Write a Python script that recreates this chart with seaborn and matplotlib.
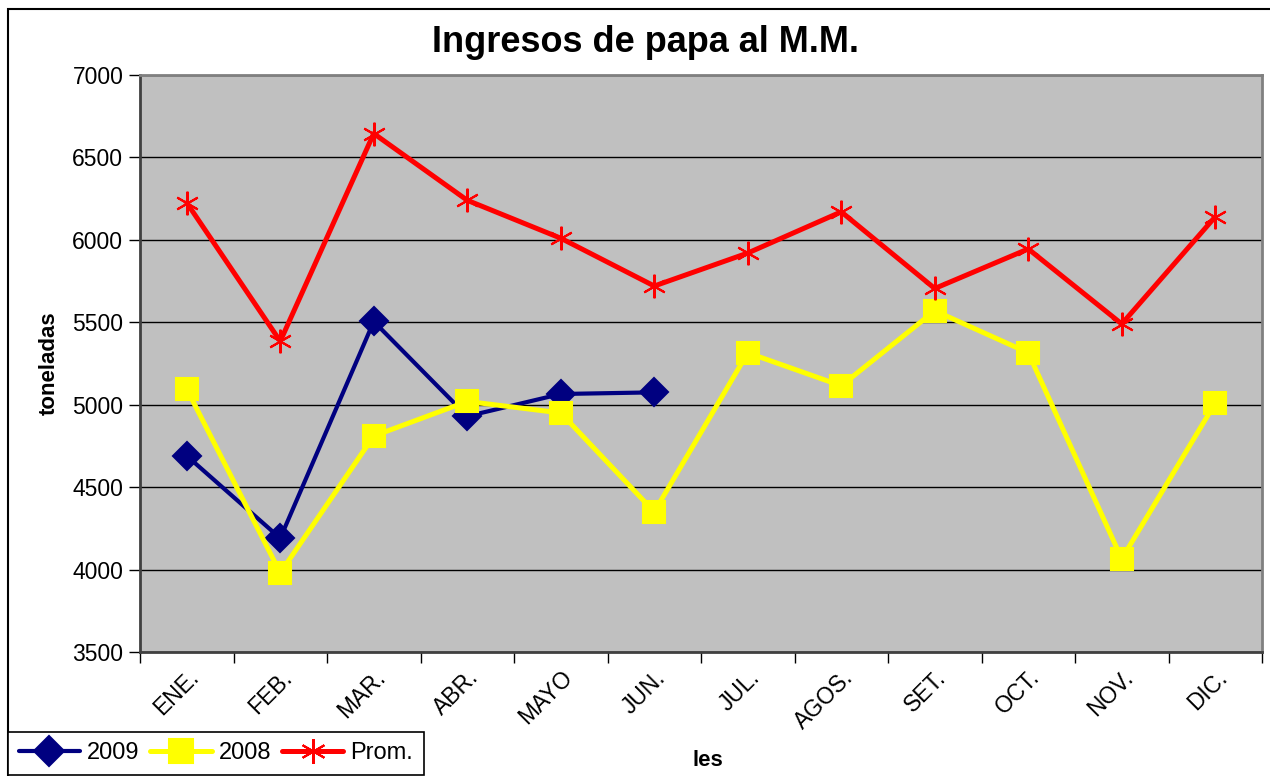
import numpy as np
import pandas as pd
import matplotlib
matplotlib.use("Agg")
import matplotlib.pyplot as plt
import seaborn as sns
from matplotlib.lines import Line2D
from matplotlib.patches import Rectangle

# datos
meses = ["ENE.", "FEB.", "MAR.", "ABR.", "MAYO", "JUN.",
         "JUL.", "AGOS.", "SET.", "OCT.", "NOV.", "DIC."]
v2009 = [4690, 4190, 5505, 4930, 5065, 5075,
         np.nan, np.nan, np.nan, np.nan, np.nan, np.nan]
v2008 = [5095, 3980, 4810, 5020, 4950, 4350,
         5315, 5115, 5570, 5315, 4065, 5010]
prom = [6225, 5385, 6645, 6240, 6010, 5720,
        5920, 6170, 5705, 5945, 5490, 6140]

df = pd.DataFrame({"mes": meses, "2009": v2009, "2008": v2008, "Prom.": prom})

sns.set_style("white")
plt.rcParams["font.family"] = ["Liberation Sans", "DejaVu Sans"]
plt.rcParams["text.color"] = "black"
plt.rcParams["axes.labelcolor"] = "black"
plt.rcParams["xtick.color"] = "black"
plt.rcParams["ytick.color"] = "black"

fig = plt.figure(figsize=(12.7, 7.76), dpi=100)
ax = fig.add_axes([140/1270, 1 - 652/776, 1122/1270, 577/776])
ax.set_facecolor("#C0C0C0")

estilos = [
    ("2009", "#000080", "D", 14, 3.0),
    ("2008", "#FFFF00", "s", 16, 3.6),
    ("Prom.", "#FF0000", (6, 2, 0), 17, 3.6),
]
for serie, color, marker, ms, lw in estilos:
    d = df.dropna(subset=[serie])
    sns.lineplot(data=d, x="mes", y=serie, ax=ax, color=color, lw=lw,
                 marker=marker, markersize=ms, markeredgecolor=color,
                 markeredgewidth=1.5, label=serie, legend=False, zorder=3)

ax.set_xlim(-0.5, 11.5)
ax.set_ylim(3500, 7000)
ax.set_yticks(np.arange(3500, 7001, 500))
ax.yaxis.grid(True, color="black", lw=1)
ax.set_axisbelow(True)

ax.set_xticks(range(len(meses)))
ax.set_xticklabels(meses, rotation=45, ha="right", rotation_mode="anchor",
                   fontsize=16.5)
ax.set_xticks(np.arange(-0.5, 12, 1), minor=True)
ax.tick_params(axis="x", which="major", length=0, pad=10)
ax.tick_params(axis="x", which="minor", length=8, width=1, color="black",
               direction="out", bottom=True)
ax.tick_params(axis="y", length=8, width=1, color="black", direction="out",
               left=True, labelsize=16.5, pad=4)

for s in ["top", "right"]:
    ax.spines[s].set_color("#808080")
    ax.spines[s].set_linewidth(2)
for s in ["left", "bottom"]:
    ax.spines[s].set_color("#404040")
    ax.spines[s].set_linewidth(2)

ax.set_xlabel("")
ax.set_ylabel("toneladas", fontsize=16, fontweight="bold", labelpad=9)

fig.text(645/1270, 1 - 42/776, "Ingresos de papa al M.M.", ha="center",
         va="center", fontsize=26, fontweight="bold")
fig.text(708/1270, 1 - 760/776, "les", ha="center", va="center",
         fontsize=16, fontweight="bold")

# borde exterior del grafico
fig.add_artist(Rectangle((8/1270, -0.1), 1.2, 1 - 9/776 + 0.1,
                         transform=fig.transFigure, fill=False,
                         edgecolor="black", lw=1.5, clip_on=False))

handles = [Line2D([], [], color=c, lw=lw, marker=m, markersize=ms + 1,
                  markeredgecolor=c, markeredgewidth=1.5)
           for _, c, m, ms, lw in estilos]
leg = fig.legend(handles, [e[0] for e in estilos], loc="lower left",
                 bbox_to_anchor=(8/1270, 1/776), ncol=3, fontsize=17,
                 frameon=True, fancybox=False, edgecolor="black",
                 framealpha=1, handlelength=2.6, columnspacing=0.45,
                 handletextpad=0.3, borderpad=0.45, borderaxespad=0)
leg.get_frame().set_linewidth(1.2)

fig.savefig("out.png", dpi=100)
